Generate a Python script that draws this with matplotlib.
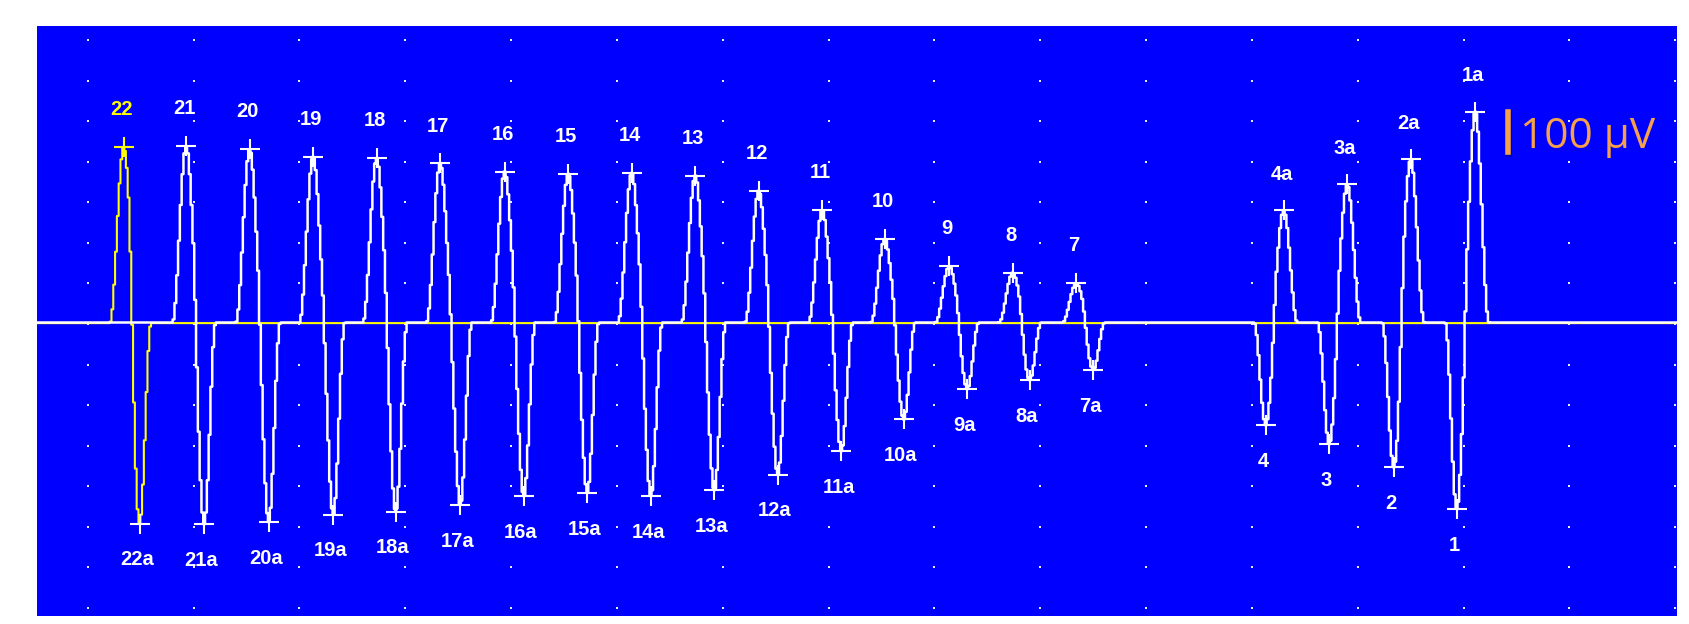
import numpy as np
import matplotlib
matplotlib.use('agg')
import matplotlib.pyplot as plt
import matplotlib.patheffects as pe

# responses 22..7: positive peak first, then the "a" trough (time ms, amplitude uV)
left_nums = [22, 21, 20, 19, 18, 17, 16, 15, 14, 13, 12, 11, 10, 9, 8, 7]
left_pos_t = [3.4, 9.3, 15.3, 21.3, 27.3, 33.3, 39.4, 45.4, 51.4, 57.4, 63.4, 69.4, 75.3, 81.4, 87.4, 93.4]
left_pos_uv = [432, 435, 427, 409, 405, 392, 372, 367, 369, 362, 325, 277, 206, 139, 123, 97]
left_neg_t = [4.9, 11.0, 17.1, 23.2, 29.1, 35.2, 41.2, 47.2, 53.2, 59.2, 65.2, 71.2, 77.1, 83.1, 89.0, 95.0]
left_neg_uv = [-496, -497, -492, -474, -466, -450, -428, -420, -428, -414, -375, -317, -239, -164, -142, -117]

# responses 4..1: trough first, then the "a" peak
right_nums = [4, 3, 2, 1]
right_neg_t = [111.3, 117.3, 123.4, 129.35]
right_neg_uv = [-253, -300, -357, -460]
right_pos_t = [113.0, 119.0, 125.0, 131.1]
right_pos_uv = [277, 341, 402, 520]

scale_uv = 100

BLUE = '#0000FF'
WHITE = '#FFFFFF'
YELLOW = '#FFFF00'
ORANGE = '#F5A04A'


def lobes(t, centers, amps, w):
    y = np.zeros_like(t)
    for c, a in zip(centers, amps):
        m = np.abs(t - c) < w
        y[m] += a * np.cos(np.pi * (t[m] - c) / (2 * w)) ** 2
    return y


def trace(t, pos_t, pos_uv, neg_t, neg_uv):
    return lobes(t, pos_t, pos_uv, 1.3) + lobes(t, neg_t, neg_uv, 1.1)


peaks_t = left_pos_t + left_neg_t + right_pos_t + right_neg_t
t = np.union1d(np.arange(-6, 151, 0.17), peaks_t)

# first sweep (yellow) holds only response 22, the white sweep holds the rest
y_yellow = trace(t, left_pos_t[:1], left_pos_uv[:1], left_neg_t[:1], left_neg_uv[:1])
y_white = trace(t, left_pos_t[1:] + right_pos_t, left_pos_uv[1:] + right_pos_uv,
                left_neg_t[1:] + right_neg_t, left_neg_uv[1:] + right_neg_uv)
yellow_base = np.where(y_yellow == 0, -1.5, y_yellow)

fig = plt.figure(figsize=(16.89, 6.24), dpi=100, facecolor='white')
ax = fig.add_axes([36.7 / 1689, 8.5 / 624, 1640 / 1689, 589.8 / 624])
ax.set_facecolor(BLUE)
ax.set_xlim(-4.82, 150.13)
ax.set_ylim(-722.2, 731.6)
for s in ax.spines.values():
    s.set_visible(False)
ax.set_xticks([])
ax.set_yticks([])

# screen graticule dots: 10 ms x 100 uV
gx, gy = np.meshgrid(np.arange(0, 151, 10), np.arange(-700, 701, 100) - 3.7)
ax.plot(gx.ravel(), gy.ravel(), 's', ms=1.8, mew=0, color='#E8EEFF', zorder=1)

ax.plot(t, yellow_base, color=YELLOW, lw=1.5, drawstyle='steps-mid', zorder=2)
ax.plot(t, y_white, color=WHITE, lw=1.8, drawstyle='steps-mid', zorder=3)

# cursors on peaks/troughs
mk = dict(marker='+', ms=14, mew=1.5, ls='none', zorder=4)
ax.plot(left_pos_t[:1], left_pos_uv[:1], color=YELLOW, **mk)
ax.plot(left_neg_t[:1], left_neg_uv[:1], color=WHITE, **mk)
ax.plot(left_pos_t[1:] + right_pos_t, left_pos_uv[1:] + right_pos_uv, color=WHITE, **mk)
ax.plot(left_neg_t[1:] + right_neg_t, left_neg_uv[1:] + right_neg_uv, color=WHITE, **mk)

lab = dict(textcoords='offset points', ha='center', va='baseline', fontsize=14.5,
           fontweight='bold', family=['Liberation Sans', 'DejaVu Sans'], zorder=5)
for i, n in enumerate(left_nums):
    ax.annotate(str(n), (left_pos_t[i], left_pos_uv[i]), xytext=(-1.5, 23),
                color=YELLOW if i == 0 else WHITE, **lab)
    ax.annotate(f'{n}a', (left_neg_t[i], left_neg_uv[i]), xytext=(-2, -30), color=WHITE, **lab)
for i, n in enumerate(right_nums):
    ax.annotate(str(n), (right_neg_t[i], right_neg_uv[i]), xytext=(-2, -30), color=WHITE, **lab)
    ax.annotate(f'{n}a', (right_pos_t[i], right_pos_uv[i]), xytext=(-1.5, 22), color=WHITE, **lab)

# amplitude calibration bar
ax.plot([134.2, 134.2], [420, 420 + scale_uv], color=ORANGE, lw=4, solid_capstyle='projecting',
        path_effects=[pe.SimpleLineShadow(offset=(1, -1.5), shadow_color='k', alpha=0.35), pe.Normal()],
        zorder=5)
ax.text(135.3, 431, f'{scale_uv} µV', fontsize=30.5, family=['Open Sans', 'DejaVu Sans'],
        color=ORANGE, ha='left', va='baseline', zorder=5)

fig.savefig('out.png', dpi=100, facecolor='white')
plt.close(fig)
